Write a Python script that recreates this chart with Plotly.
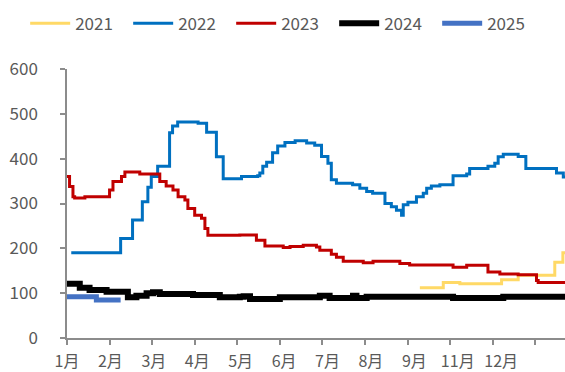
import plotly.graph_objects as go

# x in month units (0 = start of 1月)
month_labels = ["1月", "2月", "3月", "4月", "5月", "6月", "7月", "8月", "9月", "11月", "12月"]

x_2021 = [8.29, 8.84, 9.23, 10.21, 10.60, 11.46, 11.65, 11.70]
y_2021 = [112, 124, 121, 130, 140, 169, 190, 190]

x_2022 = [0.10, 1.26, 1.54, 1.77, 1.90, 1.98, 2.13, 2.41, 2.48, 2.60, 3.08, 3.28, 3.51, 3.67,
          4.10, 4.48, 4.53, 4.60, 4.69, 4.83, 4.95, 5.12, 5.36, 5.63, 5.82, 5.98, 6.13, 6.21,
          6.33, 6.71, 6.88, 7.04, 7.18, 7.47, 7.62, 7.74, 7.86, 7.90, 8.01, 8.21, 8.37, 8.45,
          8.56, 8.76, 9.07, 9.39, 9.46, 9.89, 10.05, 10.13, 10.25, 10.60, 10.78, 11.50, 11.66, 11.70]
y_2022 = [190, 222, 263, 304, 336, 360, 383, 458, 473, 482, 479, 459, 404, 355,
          360, 362, 368, 383, 392, 413, 428, 436, 440, 435, 430, 405, 390, 353,
          345, 342, 334, 327, 323, 300, 293, 285, 274, 297, 303, 315, 323, 334,
          339, 342, 362, 366, 378, 383, 390, 404, 410, 405, 378, 368, 359, 359]

x_2023 = [0.00, 0.06, 0.14, 0.18, 0.42, 1.00, 1.08, 1.28, 1.36, 1.71, 2.18, 2.33, 2.49, 2.61,
          2.77, 2.84, 3.00, 3.16, 3.24, 3.31, 4.06, 4.45, 4.65, 5.08, 5.24, 5.55, 5.86, 5.94,
          6.21, 6.33, 6.49, 6.96, 7.19, 7.82, 8.05, 9.07, 9.39, 9.89, 10.17, 10.60, 11.03,
          11.07, 11.70]
y_2023 = [360, 338, 315, 312, 315, 330, 349, 360, 370, 366, 349, 339, 330, 315,
          308, 289, 274, 267, 244, 229, 230, 218, 205, 202, 204, 207, 203, 196,
          187, 180, 171, 168, 171, 166, 163, 158, 162, 147, 143, 141, 128,
          124, 121]

x_2024 = [0.00, 0.30, 0.53, 0.93, 1.43, 1.63, 1.87, 2.02, 2.18, 2.96, 3.59, 4.06, 4.15, 4.30,
          5.00, 5.94, 6.17, 6.72, 6.80, 7.04, 9.07, 10.25, 11.70]
y_2024 = [121, 112, 107, 103, 91, 94, 100, 102, 98, 96, 91, 92, 93, 87,
          91, 94, 89, 94, 89, 92, 89, 92, 92]

x_2025 = [0.00, 0.69, 1.26]
y_2025 = [92, 85, 85]

series = [
    ("2021", x_2021, y_2021, "#FFD966", 3),
    ("2022", x_2022, y_2022, "#0070C0", 3),
    ("2023", x_2023, y_2023, "#C00000", 3),
    ("2024", x_2024, y_2024, "#000000", 6),
    ("2025", x_2025, y_2025, "#4472C4", 5),
]

fig = go.Figure()
for name, xs, ys, color, w in series:
    fig.add_trace(go.Scatter(x=xs, y=ys, name=name, mode="lines",
                             line=dict(color=color, width=w, shape="hv")))

axis_color = "#8C8C8C"
text_color = "#595959"
font_family = "Noto Sans CJK SC, Noto Sans, sans-serif"

fig.update_layout(
    width=565, height=372,
    margin=dict(l=67, r=0, t=69, b=34, autoexpand=False),
    paper_bgcolor="white", plot_bgcolor="white",
    font=dict(family=font_family, size=17, color=text_color),
    showlegend=True,
    legend=dict(orientation="h", x=-0.084, xanchor="left", y=1.168, yanchor="middle",
                xref="paper", yref="paper", font=dict(size=17, color=text_color),
                entrywidth=48, itemwidth=40, tracegroupgap=0, bgcolor="rgba(0,0,0,0)"),
    xaxis=dict(range=[0, 11.70], showgrid=False, zeroline=False,
               showline=True, linecolor=axis_color, linewidth=1.5,
               tickvals=[i * 1.02 for i in range(len(month_labels))],
               ticktext=month_labels, ticks="", ticklabelstandoff=8,
               tickfont=dict(size=16, color=text_color),
               minor=dict(ticks="outside", ticklen=5, tickcolor=axis_color, tickwidth=1.5,
                          tick0=0, dtick=1, showgrid=False)),
    yaxis=dict(range=[0, 600], dtick=100, showgrid=False, zeroline=False,
               showline=True, linecolor=axis_color, linewidth=1.5,
               ticks="outside", ticklen=5, tickcolor=axis_color, tickwidth=1.5,
               ticklabelstandoff=19,
               tickfont=dict(size=17, color=text_color)),
)

fig.write_html("out.html", config={"displayModeBar": False},
               post_script="document.body.style.margin='0';")
